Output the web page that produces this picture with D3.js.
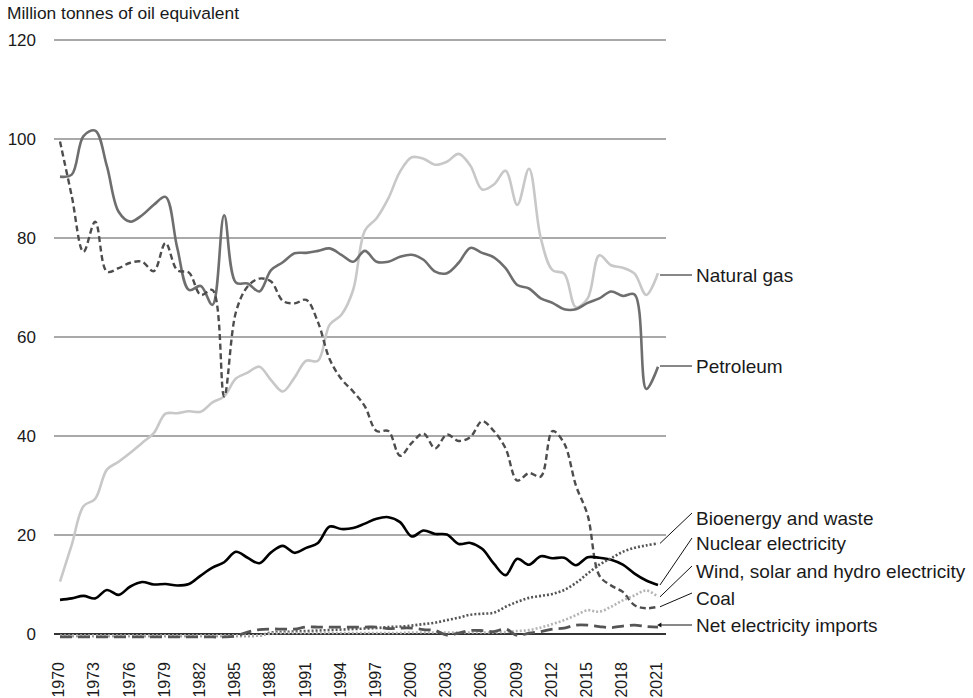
<!DOCTYPE html>
<html>
<head>
<meta charset="utf-8">
<script src="https://cdn.jsdelivr.net/npm/d3@7"></script>
<style>
  body { margin: 0; background: #fff; }
  svg text { font-family: "Liberation Sans", Arial, sans-serif; fill: #1a1a1a; }
</style>
</head>
<body>
<div id="chart"></div>
<script>
// UK inland energy consumption by fuel, million tonnes of oil equivalent
const years = d3.range(1970, 2022);

const naturalGas = [10.6, 18, 25.8, 27.3, 33.2, 34.8, 36.6, 38.6, 40.6, 44.5, 44.6, 45, 44.9, 46.8, 48,
  51.6, 52.8, 54, 51.3, 49, 51.8, 55.2, 55.2, 62.5, 64.5, 69.5, 81.5, 84, 88, 93.4, 96.3, 96, 94.8, 95.4,
  97, 94.6, 89.8, 90.8, 93.6, 86.7, 94, 80, 73.5, 72.8, 66, 67.8, 76.5, 74.5, 74, 72.8, 68.5, 72.9];

const petroleum = [92.4, 92.8, 100.6, 101.7, 94.5, 85.3, 83.3, 84.6, 86.7, 88.3, 78, 69.5, 70.3, 66.5, 84.6,
  71, 70.8, 69.2, 73.5, 75.1, 76.9, 77, 77.4, 77.9, 76.6, 75.2, 77.4, 75.2, 75.2, 76.2, 76.6, 75.6, 73.2,
  72.9, 75, 78, 77, 76.1, 73.9, 70.5, 69.8, 67.8, 66.9, 65.6, 65.6, 66.9, 67.8, 69.2, 68.3, 68.6, 49.5, 54];

const coal = [99.5, 88.5, 77.2, 83.3, 73.2, 73.9, 75, 75.2, 73.3, 79, 73.5, 73, 68.5, 69.5, 48,
  65, 70.2, 71.8, 71.2, 67.3, 66.8, 67.5, 63, 55.5, 51.5, 49, 46, 41, 41, 36, 38.6, 40.5, 37.5, 40.3,
  39, 39.8, 43, 41, 37.5, 31, 32.5, 31.8, 41, 38.5, 30, 24, 11.8, 9.8, 8.5, 5.8, 5.2, 5.5];

const nuclear = [6.9, 7.2, 7.7, 7.2, 8.9, 7.9, 9.6, 10.5, 10, 10.1, 9.8, 10.1, 11.8, 13.4, 14.5,
  16.6, 15.4, 14.3, 16.5, 17.8, 16.4, 17.4, 18.4, 21.7, 21.2, 21.4, 22.3, 23.3, 23.6, 22.6, 19.7, 20.9,
  20.2, 20.1, 18.2, 18.4, 17.2, 14.2, 11.9, 15.2, 14, 15.7, 15.3, 15.4, 13.9, 15.5, 15.4, 15, 14, 12.2,
  10.8, 9.9];

const bioenergy = [-0.4, -0.4, -0.4, -0.4, -0.4, -0.4, -0.4, -0.4, -0.4, -0.4, -0.4, -0.4, -0.4, -0.4,
  -0.4, -0.4, -0.4, -0.3, 0.3, 0.4, 0.5, 0.6, 0.7, 0.8, 0.9, 1, 1.1, 1.2, 1.4, 1.5, 1.7, 2, 2.3, 2.8,
  3.3, 3.9, 4.1, 4.3, 5.5, 6.5, 7.3, 7.7, 8.1, 8.9, 10.3, 12.2, 14, 15.3, 16.6, 17.4, 17.9, 18.3];

const windSolarHydro = [-0.3, -0.3, -0.3, -0.3, -0.3, -0.3, -0.3, -0.3, -0.3, -0.3, -0.3, -0.3, -0.3,
  -0.3, -0.3, -0.3, -0.3, -0.3, 0.1, 0.2, 0.2, 0.2, 0.2, 0.2, 0.2, 0.2, 0.2, 0.2, 0.2, 0.2, 0.3, 0.3,
  0.3, 0.3, 0.3, 0.3, 0.3, 0.3, 0.4, 0.6, 0.8, 1.3, 2, 2.8, 3.8, 4.8, 4.5, 5.5, 6.8, 7.8, 8.8, 7.5];

const netImports = [-0.6, -0.6, -0.6, -0.6, -0.6, -0.6, -0.6, -0.6, -0.6, -0.6, -0.6, -0.6, -0.6, -0.6,
  -0.6, -0.4, 0.4, 0.9, 1, 1, 1, 1.4, 1.4, 1.4, 1.4, 1.4, 1.4, 1.4, 1.1, 1.2, 1.2, 0.9, 0.7, -0.2, 0.2,
  0.7, 0.7, 0.5, 1, -0.3, 0.2, 0.5, 1, 1.2, 1.8, 1.8, 1.5, 1.3, 1.6, 1.8, 1.5, 1.4];

const yTicks = [0, 20, 40, 60, 80, 100, 120];
const xTicks = d3.range(1970, 2022, 3);

const series = [
  { name: "Natural gas", values: naturalGas, color: "#c8c8c8", dash: null, width: 2.6, labelY: 275, angled: false },
  { name: "Petroleum", values: petroleum, color: "#6e6e6e", dash: null, width: 2.6, labelY: 366, angled: false },
  { name: "Coal", values: coal, color: "#4d4d4d", dash: "6,3.5", width: 2.4, labelY: 598, angled: true },
  { name: "Nuclear electricity", values: nuclear, color: "#000", dash: null, width: 2.6, labelY: 543, angled: true },
  { name: "Bioenergy and waste", values: bioenergy, color: "#555", dash: "2,2", width: 2.6, labelY: 518, angled: true },
  { name: "Wind, solar and hydro electricity", values: windSolarHydro, color: "#b4b4b4", dash: "2,2", width: 2.6, labelY: 571, angled: true },
  { name: "Net electricity imports", values: netImports, color: "#555", dash: "12,6", width: 2.8, labelY: 625, angled: false }
];

const width = 973, height = 698;

const svg = d3.select("#chart").append("svg")
  .attr("width", width)
  .attr("height", height);

const x = d3.scaleLinear().domain([1970, 2021]).range([60, 658]);
const y = d3.scaleLinear().domain([0, 120]).range([634, 40]);

// title
svg.append("text")
  .attr("x", 7)
  .attr("y", 19)
  .style("font-size", "17.4px")
  .text("Million tonnes of oil equivalent");

// grid + y labels
svg.append("g")
  .selectAll("line")
  .data(yTicks)
  .enter()
  .append("line")
  .attr("x1", 54)
  .attr("x2", 666)
  .attr("y1", d => y(d))
  .attr("y2", d => y(d))
  .attr("stroke", d => d == 0 ? "#333" : "#555")
  .attr("stroke-width", d => d == 0 ? 2 : 1.1);

svg.append("g")
  .selectAll("text")
  .data(yTicks)
  .enter()
  .append("text")
  .attr("x", 36)
  .attr("y", d => y(d))
  .attr("dy", "0.36em")
  .style("text-anchor", "end")
  .style("font-size", "17px")
  .text(d => d);

// x labels, rotated
svg.append("g")
  .selectAll("text")
  .data(xTicks)
  .enter()
  .append("text")
  .attr("transform", d => `translate(${x(d) - 1.5}, 662) rotate(-90)`)
  .attr("dy", "0.36em")
  .style("text-anchor", "end")
  .style("font-size", "16px")
  .text(d => d);

const line = d3.line()
  .x((d, i) => x(years[i]))
  .y(d => y(d))
  .curve(d3.curveCatmullRom.alpha(0.5));

svg.append("g")
  .selectAll("path")
  .data(series)
  .enter()
  .append("path")
  .attr("d", d => line(d.values))
  .attr("fill", "none")
  .attr("stroke", d => d.color)
  .attr("stroke-width", d => d.width)
  .attr("stroke-dasharray", d => d.dash)
  .attr("stroke-linejoin", "round");

// connectors and labels
const last = years.length - 1;
const labels = svg.append("g");

series.forEach(s => {
  const x0 = x(years[last]) + 2;
  const y0 = y(s.values[last]);
  labels.append("line")
    .attr("x1", s.name == "Net electricity imports" ? x0 - 1 : x0)
    .attr("y1", s.angled ? y0 : s.labelY)
    .attr("x2", 692)
    .attr("y2", s.angled ? s.labelY - 5 : s.labelY)
    .attr("stroke", "#111")
    .attr("stroke-width", 1);

  labels.append("text")
    .attr("x", 696)
    .attr("y", s.labelY)
    .attr("dy", "0.36em")
    .style("font-size", "19px")
    .text(s.name);
});

// small arrow tip on the imports connector
labels.append("path")
  .attr("d", d3.symbol().type(d3.symbolTriangle).size(10)())
  .attr("transform", `translate(${x(years[last]) + 2}, ${series[6].labelY}) rotate(-90)`)
  .attr("fill", "#111");
</script>
</body>
</html>
